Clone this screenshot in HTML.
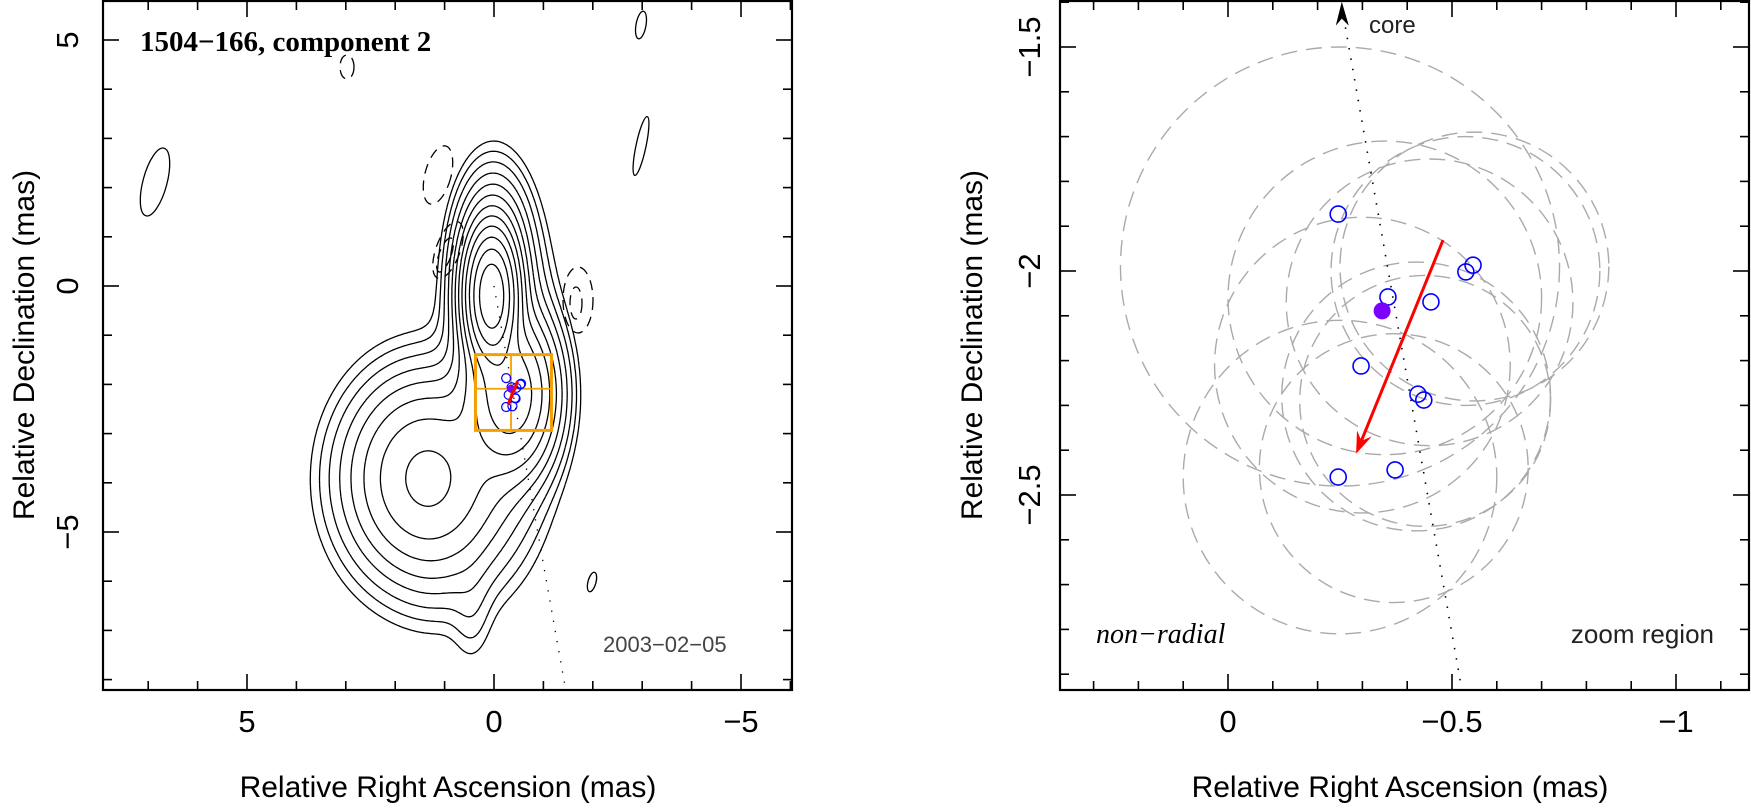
<!DOCTYPE html>
<html><head><meta charset="utf-8">
<style>
html,body{margin:0;padding:0;background:#fff;}
svg{display:block;}
text{font-family:"Liberation Sans",sans-serif;}
</style></head>
<body>
<svg id="fig" width="1751" height="809" viewBox="0 0 1751 809" xmlns="http://www.w3.org/2000/svg">
  <g id="left"></g>
  <g id="right"></g>
</svg>
<script>
// ---------- data: left panel (map) ----------
const leftXTicks = [5, 0, -5];
const leftYTicks = [5, 0, -5];
// gaussian components of the map model: [ra, dec, amp, sx, sy]
const compRA  = [0.05, 0.05, -0.35, -0.2, 1.35, 1.3, 1.0, 0.45, -0.1];
const compDec = [-0.2, 0.1, -2.2, -1.6, -3.9, -4.0, -5.5, -6.6, 1.1];
const compAmp = [1.0, 0.08, 0.2, 0.02, 0.09, 0.008, 0.003, 0.003, 0.005];
const compSx  = [0.25, 0.38, 0.45, 0.55, 0.8, 1.15, 0.6, 0.25, 0.33];
const compSy  = [0.65, 1.0, 0.8, 1.7, 1.0, 1.5, 0.8, 0.7, 0.65];
const contourLevels = [0.002, 0.0034, 0.0058, 0.01, 0.017, 0.029, 0.05, 0.085, 0.145, 0.25, 0.42, 0.7];
// ---------- data: right panel ----------
const rightXTicks = [0, -0.5, -1];
const rightYTicks = [-1.5, -2, -2.5];
const compPosRA  = [-0.246, -0.357, -0.453, -0.531, -0.547, -0.297, -0.424, -0.437, -0.246, -0.373];
const compPosDec = [-1.873, -2.058, -2.069, -2.002, -1.987, -2.212, -2.275, -2.288, -2.46, -2.444];
const meanRA = -0.344, meanDec = -2.089;
const errRA  = [-0.25, -0.35, -0.45, -0.53, -0.30, -0.42, -0.25, -0.37, -0.44, -0.55];
const errDec = [-1.99, -2.06, -2.07, -2.0, -2.21, -2.28, -2.46, -2.44, -2.29, -1.99];
const errR   = [0.49, 0.35, 0.32, 0.3, 0.33, 0.3, 0.35, 0.3, 0.28, 0.3];
const arrowRA = [-0.480, -0.286], arrowDec = [-1.931, -2.408];
const coreLineRA = [-0.254, -0.522], coreLineDec = [-1.41, -2.935];

const NS="http://www.w3.org/2000/svg";
function mk(parent, tag, attrs, txt){
  const e=document.createElementNS(NS,tag);
  for(const k in attrs) e.setAttribute(k,attrs[k]);
  if(txt!==undefined) e.textContent=txt;
  parent.appendChild(e); return e;
}
// ---------- LEFT ----------
const L=document.getElementById('left');
const lx = ra => 494 - ra*49.4;
const ly = dec => 286 - dec*49.2;
const LF={x0:103,x1:792,y0:1,y1:690};
function model(ra,dec){
  let s=0;
  for(let i=0;i<compRA.length;i++){
    const dx=(ra-compRA[i])/compSx[i], dy=(dec-compDec[i])/compSy[i];
    s+=compAmp[i]*Math.exp(-0.5*(dx*dx+dy*dy));
  }
  return s;
}
const gx0=5, gx1=-4, gy0=4, gy1=-8.2, step=0.04;
const nx=Math.round((gx0-gx1)/step), ny=Math.round((gy0-gy1)/step);
const grid=[];
for(let j=0;j<=ny;j++){const row=[];for(let i=0;i<=nx;i++)row.push(model(gx0-i*step,gy0-j*step));grid.push(row);}
let cpath='';
contourLevels.forEach(lv=>{
  for(let j=0;j<ny;j++)for(let i=0;i<nx;i++){
    const a=grid[j][i],b=grid[j][i+1],c=grid[j+1][i+1],d=grid[j+1][i];
    const pts=[];
    const X=t=>lx(gx0-t*step), Y=t=>ly(gy0-t*step);
    if((a>lv)!==(b>lv)){const t=(lv-a)/(b-a);pts.push([X(i+t),Y(j)]);}
    if((b>lv)!==(c>lv)){const t=(lv-b)/(c-b);pts.push([X(i+1),Y(j+t)]);}
    if((c>lv)!==(d>lv)){const t=(lv-d)/(c-d);pts.push([X(i+t),Y(j+1)]);}
    if((d>lv)!==(a>lv)){const t=(lv-a)/(d-a);pts.push([X(i),Y(j+t)]);}
    for(let k=0;k+1<pts.length;k+=2) cpath+=`M${pts[k][0].toFixed(1)} ${pts[k][1].toFixed(1)}L${pts[k+1][0].toFixed(1)} ${pts[k+1][1].toFixed(1)}`;
  }
});
const cont=mk(L,'path',{d:cpath,fill:'none',stroke:'#000','stroke-width':1.3});


const iso=mk(L,'g',{fill:'none',stroke:'#000','stroke-width':1.3});


mk(iso,'ellipse',{cx:155,cy:182,rx:12,ry:35,transform:'rotate(15 155 182)'});
mk(iso,'ellipse',{cx:641,cy:25,rx:5,ry:14,transform:'rotate(10 641 25)'});
mk(iso,'ellipse',{cx:641,cy:146,rx:5,ry:30,transform:'rotate(12 641 146)'});
mk(iso,'ellipse',{cx:592,cy:582,rx:4,ry:10,transform:'rotate(15 592 582)'});
const neg=mk(L,'g',{fill:'none',stroke:'#000','stroke-width':1.3,'stroke-dasharray':'10 7'});


mk(neg,'ellipse',{cx:438,cy:175,rx:13,ry:30,transform:'rotate(15 438 175)'});
mk(neg,'ellipse',{cx:448,cy:250,rx:12,ry:30,transform:'rotate(20 448 250)'});
mk(neg,'ellipse',{cx:445,cy:255,rx:6,ry:18,transform:'rotate(20 445 255)'});
mk(neg,'ellipse',{cx:578,cy:300,rx:15,ry:33});
mk(neg,'ellipse',{cx:576,cy:303,rx:6,ry:16});
mk(neg,'ellipse',{cx:347,cy:67,rx:7,ry:12});
const dl=mk(L,'line',{x1:lx(0),y1:ly(0),x2:lx(-1.45),y2:ly(-8.2),stroke:'#000','stroke-width':1.3,'stroke-dasharray':'1.3 9'});


const zb=mk(L,'g',{fill:'none',stroke:'#f5a000','stroke-width':2.5});


mk(zb,'rect',{x:lx(0.375),y:ly(-1.395),width:lx(-1.163)-lx(0.375),height:ly(-2.935)-ly(-1.395),'stroke-width':3});
mk(zb,'line',{x1:lx(meanRA),y1:ly(-1.395),x2:lx(meanRA),y2:ly(-2.935),'stroke-width':1.8});
mk(zb,'line',{x1:lx(0.375),y1:ly(meanDec),x2:lx(-1.163),y2:ly(meanDec),'stroke-width':1.8});
compPosRA.forEach((ra,i)=>{
  const c=mk(L,'circle',{cx:lx(ra),cy:ly(compPosDec[i]),r:4.5,fill:'none',stroke:'#0000ff','stroke-width':1.2});
  
  
});
const fm=mk(L,'circle',{cx:lx(meanRA),cy:ly(meanDec),r:4,fill:'#7b00ff'});


const la=mk(L,'line',{x1:lx(arrowRA[0]),y1:ly(arrowDec[0]),x2:lx(arrowRA[1]),y2:ly(arrowDec[1]),stroke:'#ff0000','stroke-width':3});



function frame(G, F, xt, yt, X, Y, minorX, minorY, fmtX, fmtY, ylabx){
  const f=mk(G,'rect',{x:F.x0,y:F.y0,width:F.x1-F.x0,height:F.y1-F.y0,fill:'none',stroke:'#000','stroke-width':2.2});
  
  
  const tg=mk(G,'g',{stroke:'#000','stroke-width':1.6});
  
  
  minorX.forEach(v=>{const x=X(v); if(x<F.x0||x>F.x1)return; const M=xt.some(t=>Math.abs(t-v)<1e-6)?16:9;
    mk(tg,'line',{x1:x,y1:F.y1,x2:x,y2:F.y1-M}); mk(tg,'line',{x1:x,y1:F.y0,x2:x,y2:F.y0+M});});
  minorY.forEach(v=>{const y=Y(v); if(y<F.y0||y>F.y1)return; const M=yt.some(t=>Math.abs(t-v)<1e-6)?16:9;
    mk(tg,'line',{x1:F.x0,y1:y,x2:F.x0+M,y2:y}); mk(tg,'line',{x1:F.x1,y1:y,x2:F.x1-M,y2:y});});
  xt.forEach(v=>{const t=mk(G,'text',{x:X(v),y:732,'font-size':31,'text-anchor':'middle',fill:'#000'},fmtX(v));
    
    });
  yt.forEach(v=>{const y=Y(v);const t=mk(G,'text',{x:ylabx,y:y,'font-size':31,'text-anchor':'middle',fill:'#000',transform:`rotate(-90 ${ylabx} ${y})`},fmtY(v));
    
    });
}
const fmt=v=>(v<0?'\u2212':'')+Math.abs(v);
const lmx=[],lmy=[];
for(let v=-6;v<=8;v++){lmx.push(v);} for(let v=-8;v<=5;v++){lmy.push(v);}
frame(L,LF,leftXTicks,leftYTicks,lx,ly,lmx,lmy,fmt,fmt,78);
let t;
t=mk(L,'text',{x:448,y:797,'font-size':30,'text-anchor':'middle'},'Relative Right Ascension (mas)');


t=mk(L,'text',{x:34,y:345,'font-size':30,'text-anchor':'middle',transform:'rotate(-90 34 345)'},'Relative Declination (mas)');


t=mk(L,'text',{x:140,y:51,'font-size':29,style:'font-family:"Liberation Serif",serif;font-weight:bold'},'1504\u2212166, component 2');


t=mk(L,'text',{x:603,y:652,'font-size':22,fill:'#444'},'2003\u221202\u221205');



// ---------- RIGHT ----------
const R=document.getElementById('right');
const rx = ra => 1228 - ra*448;
const ry = dec => 47 + (-1.5-dec)*448;
const RF={x0:1060,x1:1749,y0:1,y1:690};
const clip=mk(R,'clipPath',{id:'rclip'});
mk(clip,'rect',{x:RF.x0,y:RF.y0,width:RF.x1-RF.x0,height:RF.y1-RF.y0});
const RG=mk(R,'g',{'clip-path':'url(#rclip)'});
errRA.forEach((ra,i)=>{
  const c=mk(RG,'circle',{cx:rx(ra),cy:ry(errDec[i]),r:errR[i]*448,fill:'none',stroke:'#aaa','stroke-width':1.4,'stroke-dasharray':'16 9'});
  
  
});
const cl=mk(RG,'line',{x1:rx(coreLineRA[0]),y1:ry(coreLineDec[0]),x2:rx(coreLineRA[1]),y2:ry(coreLineDec[1]),stroke:'#000','stroke-width':1.6,'stroke-dasharray':'1.5 9'});


{
  const x=rx(coreLineRA[0]), y=ry(coreLineDec[0])-5;
  const ah=mk(R,'path',{d:`M${x} ${y} L${x-6} ${y+24} L${x} ${y+17} L${x+7} ${y+24} Z`,fill:'#000'});
  
  
}
t=mk(R,'text',{x:1369,y:33,'font-size':24,fill:'#222'},'core');


compPosRA.forEach((ra,i)=>{
  const c=mk(RG,'circle',{cx:rx(ra),cy:ry(compPosDec[i]),r:8,fill:'none',stroke:'#0000ff','stroke-width':1.6});
  
  
});
const mp=mk(RG,'circle',{cx:rx(meanRA),cy:ry(meanDec),r:8.5,fill:'#7b00ff'});


{
  const x1=rx(arrowRA[0]),y1=ry(arrowDec[0]),x2=rx(arrowRA[1]),y2=ry(arrowDec[1]);
  const ang=Math.atan2(y2-y1,x2-x1), L2=22, w=8;
  const bx=x2-L2*Math.cos(ang), by=y2-L2*Math.sin(ang);
  const ar=mk(R,'g',{});
  
  
  mk(ar,'line',{x1:x1,y1:y1,x2:x2-6*Math.cos(ang),y2:y2-6*Math.sin(ang),stroke:'#ff0000','stroke-width':3});
  const px=-Math.sin(ang)*w, py=Math.cos(ang)*w;
  const nx2=x2-14*Math.cos(ang), ny2=y2-14*Math.sin(ang);
  mk(ar,'path',{d:`M${x2} ${y2} L${bx+px} ${by+py} L${nx2} ${ny2} L${bx-px} ${by-py} Z`,fill:'#ff0000'});
}
const rmx=[],rmy=[];
for(let v=0.3;v>=-1.2;v-=0.1)rmx.push(Math.round(v*10)/10);
for(let v=-1.4;v>=-3.0;v-=0.1)rmy.push(Math.round(v*10)/10);
frame(R,RF,rightXTicks,rightYTicks,rx,ry,rmx,rmy,fmt,fmt,1040);
t=mk(R,'text',{x:1400,y:797,'font-size':30,'text-anchor':'middle'},'Relative Right Ascension (mas)');


t=mk(R,'text',{x:982,y:345,'font-size':30,'text-anchor':'middle',transform:'rotate(-90 982 345)'},'Relative Declination (mas)');


t=mk(R,'text',{x:1096,y:643,'font-size':28,'font-style':'italic',style:'font-family:"Liberation Serif",serif'},'non\u2212radial');


t=mk(R,'text',{x:1714,y:643,'font-size':26,'text-anchor':'end',fill:'#222'},'zoom region');


</script>
</body></html>
